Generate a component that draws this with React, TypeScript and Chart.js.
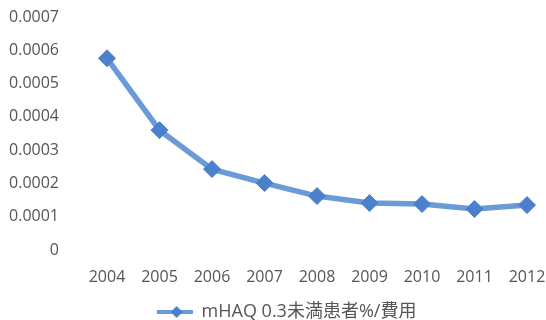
import React, { useEffect, useRef } from "react";
import { Chart, registerables } from "chart.js";

Chart.register(...registerables);

const years = ["2004", "2005", "2006", "2007", "2008", "2009", "2010", "2011", "2012"];
const values = [0.000576, 0.00036, 0.000243, 0.000201, 0.000162, 0.000141, 0.000138, 0.000123, 0.000135];
const seriesLabel = "mHAQ 0.3未満患者%/費用";

const LINE = "#6b9ad8";
const POINT = "#4c80cc";
const TEXT = "#555555";
const FONT = "'Open Sans', 'Noto Sans CJK JP', sans-serif";

function makeLegendIcon(): HTMLCanvasElement {
  const c = document.createElement("canvas");
  c.width = 36;
  c.height = 14;
  const ctx = c.getContext("2d")!;
  ctx.strokeStyle = LINE;
  ctx.lineWidth = 4;
  ctx.beginPath();
  ctx.moveTo(0, 7);
  ctx.lineTo(36, 7);
  ctx.stroke();
  ctx.fillStyle = POINT;
  ctx.beginPath();
  ctx.moveTo(20, 1);
  ctx.lineTo(26, 7);
  ctx.lineTo(20, 13);
  ctx.lineTo(14, 7);
  ctx.closePath();
  ctx.fill();
  return c;
}

const shiftLegend = {
  id: "shiftLegend",
  afterLayout(chart: any) {
    const l = chart.legend;
    if (l) {
      l.left += 23;
      l.right += 23;
    }
  },
};

export default function App() {
  const ref = useRef<HTMLCanvasElement | null>(null);
  useEffect(() => {
    if (!ref.current) return;
    const icon = makeLegendIcon();
    const chart = new Chart(ref.current, {
      type: "line",
      data: {
        labels: years,
        datasets: [
          {
            label: seriesLabel,
            data: values,
            borderColor: LINE,
            backgroundColor: POINT,
            borderWidth: 5.5,
            pointStyle: "rectRot",
            pointRadius: 8.5,
            pointBackgroundColor: POINT,
            pointBorderColor: POINT,
            pointBorderWidth: 1,
            tension: 0,
          },
        ],
      },
      options: {
        animation: false,
        responsive: true,
        maintainAspectRatio: false,
        layout: { padding: { top: 17, right: 19, left: 0, bottom: -11 } },
        scales: {
          x: {
            offset: false,
            grid: { display: false },
            border: { display: false },
            ticks: { color: TEXT, font: { family: FONT, size: 16 }, padding: 10, maxRotation: 0, autoSkip: false },
            afterFit: (s: any) => {
              s.height = 49;
              s.paddingLeft = 0;
              s.paddingRight = 0;
            },
          },
          y: {
            min: 0,
            max: 0.0007,
            grid: { display: false },
            border: { display: false },
            ticks: {
              stepSize: 0.0001,
              color: TEXT,
              font: { family: FONT, size: 16 },
              padding: 40,
              callback: (v: any) => {
                const n = Math.round(Number(v) * 1e4) / 1e4;
                return n === 0 ? "0" : n.toFixed(4);
              },
            },
            afterFit: (s: any) => {
              s.width = 107;
              s.paddingTop = 0;
              s.paddingBottom = 0;
            },
          },
        },
        plugins: {
          legend: {
            position: "bottom",
            labels: {
              color: TEXT,
              font: { family: FONT, size: 18 },
              usePointStyle: true,
              pointStyleWidth: 36,
              padding: 4,
              generateLabels: () => [
                {
                  text: seriesLabel,
                  pointStyle: icon,
                  fillStyle: POINT,
                  strokeStyle: POINT,
                  lineWidth: 0,
                  hidden: false,
                  datasetIndex: 0,
                  fontColor: TEXT,
                },
              ],
            },
          },
          tooltip: { enabled: false },
        },
      },
      plugins: [shiftLegend],
    });
    return () => chart.destroy();
  }, []);
  return (
    <div style={{ position: "fixed", left: 0, top: 0, width: 546, height: 320, background: "#fff" }}>
      <canvas ref={ref} />
    </div>
  );
}
